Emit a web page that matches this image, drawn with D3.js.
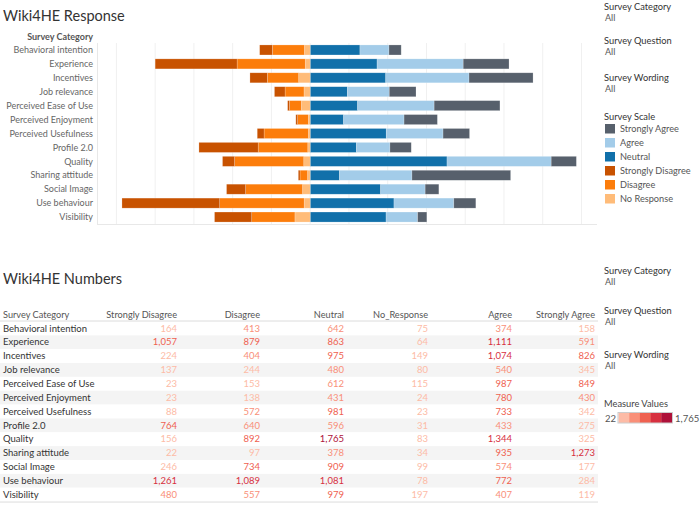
<!DOCTYPE html>
<html><head><meta charset="utf-8">
<script src="https://cdn.jsdelivr.net/npm/d3@7"></script>
<style>
body{margin:0;background:#fff;}
svg text{font-family:Lato,"Open Sans",sans-serif;}
</style></head><body>
<svg id="c" width="700" height="522"></svg>
<script>
const categories = ["Behavioral intention","Experience","Incentives","Job relevance","Perceived Ease of Use","Perceived Enjoyment","Perceived Usefulness","Profile 2.0","Quality","Sharing attitude","Social Image","Use behaviour","Visibility"];
const stronglyDisagree = [164,1057,224,137,23,23,88,764,156,22,246,1261,480];
const disagree = [413,879,404,244,153,138,572,640,892,97,734,1089,557];
const neutral = [642,863,975,480,612,431,981,596,1765,378,909,1081,979];
const noResponse = [75,64,149,80,115,24,23,31,83,34,99,78,197];
const agree = [374,1111,1074,540,987,780,733,433,1344,935,574,772,407];
const stronglyAgree = [158,591,826,345,849,430,342,275,325,1273,177,284,119];
const scaleNames = ["Strongly Agree","Agree","Neutral","Strongly Disagree","Disagree","No Response"];
const scaleColors = ["#57606c","#a3cce9","#1170aa","#c85200","#fc7d0b","#ffbc79"];
const tableColumns = ["Strongly Disagree","Disagree","Neutral","No_Response","Agree","Strongly Agree"];
const heatColors = ["#fdbba6","#f98f78","#ef6150","#d7303f","#ae1139"];
const xTicks = [-2500,-2000,-1500,-1000,-500,0,500,1000,1500,2000,2500,3000,3500];

const svg = d3.select("#c");
const series = {"Strongly Disagree":stronglyDisagree,"Disagree":disagree,"Neutral":neutral,"No Response":noResponse,"Agree":agree,"Strongly Agree":stronglyAgree};
const color = d3.scaleOrdinal(scaleNames, scaleColors);

// ---------- Top chart ----------
svg.append("text").attr("x",3).attr("y",21).attr("font-size",14.5).attr("fill","#333").text("Wiki4HE Response");

const x = d3.scaleLinear().domain([-2750,3700]).range([97,597]);
const y = d3.scaleBand().domain(categories).range([43,224]).paddingInner(0.28).paddingOuter(0.14);

const g = svg.append("g");
g.selectAll("line.grid").data(xTicks).join("line")
  .attr("x1",d=>x(d)).attr("x2",d=>x(d)).attr("y1",43).attr("y2",224)
  .attr("stroke","#f0f0f0").attr("stroke-width",1);
g.append("line").attr("x1",97.5).attr("x2",97.5).attr("y1",43).attr("y2",224).attr("stroke","#e8e8e8");
g.append("line").attr("x1",97).attr("x2",597).attr("y1",224.5).attr("y2",224.5).attr("stroke","#e8e8e8");

svg.append("text").attr("x",93).attr("y",40).attr("text-anchor","end").attr("font-size",9).attr("font-weight","bold").attr("fill","#555").text("Survey Category");
svg.selectAll("text.rl").data(categories).join("text").attr("class","rl")
  .attr("x",93).attr("y",d=>y(d)+y.bandwidth()/2+3.2).attr("text-anchor","end")
  .attr("font-size",9).attr("fill","#666").text(d=>d);

const segs = [];
categories.forEach((c,i)=>{
  let pos = 0;
  ["Neutral","Agree","Strongly Agree"].forEach(k=>{ const v=series[k][i]; segs.push({c,k,x0:pos,x1:pos+v}); pos+=v; });
  let neg = 0;
  ["No Response","Disagree","Strongly Disagree"].forEach(k=>{ const v=series[k][i]; segs.push({c,k,x0:neg-v,x1:neg}); neg-=v; });
});
g.selectAll("rect.seg").data(segs).join("rect").attr("class","seg")
  .attr("x",d=>x(d.x0)).attr("width",d=>x(d.x1)-x(d.x0))
  .attr("y",d=>y(d.c)).attr("height",y.bandwidth())
  .attr("fill",d=>color(d.k)).attr("stroke","rgba(255,255,255,0.35)").attr("stroke-width",0.6);

// ---------- Top right panel ----------
function filt(yy,label){
  svg.append("text").attr("x",604).attr("y",yy).attr("font-size",9.3).attr("fill","#333").text(label);
  svg.append("text").attr("x",605).attr("y",yy+11).attr("font-size",9).attr("fill","#555").text("All");
}
filt(10,"Survey Category"); filt(44,"Survey Question"); filt(81,"Survey Wording");
svg.append("text").attr("x",604).attr("y",120).attr("font-size",9.3).attr("fill","#333").text("Survey Scale");
const leg = svg.selectAll("g.leg").data(scaleNames).join("g").attr("class","leg")
  .attr("transform",(d,i)=>`translate(605,${124+i*14})`);
leg.append("rect").attr("width",10).attr("height",9.5).attr("fill",d=>color(d));
leg.append("text").attr("x",15).attr("y",8).attr("font-size",9.2).attr("fill","#555").text(d=>d);

// ---------- Bottom table ----------
svg.append("text").attr("x",3).attr("y",284).attr("font-size",14.5).attr("fill","#333").text("Wiki4HE Numbers");
const colRight = [177,260,344,428,512,595];
const colData = [stronglyDisagree,disagree,neutral,noResponse,agree,stronglyAgree];
const rowStep = 13.85, rowTop = 321.5;
const allVals = colData.flat();
const heat = d3.scaleQuantize().domain([d3.min(allVals), d3.max(allVals)]).range(heatColors);
const fmt = d3.format(",");

svg.selectAll("rect.band").data(categories).join("rect").attr("class","band")
  .attr("x",0).attr("width",598).attr("y",(d,i)=>rowTop+i*rowStep).attr("height",rowStep)
  .attr("fill",(d,i)=>i%2?"#f4f4f4":"#fff");
svg.append("line").attr("x1",0).attr("x2",598).attr("y1",321).attr("y2",321).attr("stroke","#dcdcdc");
svg.append("line").attr("x1",0).attr("x2",598).attr("y1",rowTop+13*rowStep+0.5).attr("y2",rowTop+13*rowStep+0.5).attr("stroke","#dcdcdc");

svg.append("text").attr("x",3).attr("y",318).attr("font-size",9.2).attr("fill","#555").text("Survey Category");
svg.selectAll("text.ch").data(tableColumns).join("text").attr("class","ch")
  .attr("x",(d,i)=>colRight[i]).attr("y",318).attr("text-anchor","end").attr("font-size",9.2).attr("fill","#555").text(d=>d);
svg.selectAll("text.tr").data(categories).join("text").attr("class","tr")
  .attr("x",3).attr("y",(d,i)=>rowTop+i*rowStep+rowStep/2+3.2).attr("font-size",9.5).attr("fill","#333").text(d=>d);
colData.forEach((arr,ci)=>{
  svg.append("g").selectAll("text").data(arr).join("text")
    .attr("x",colRight[ci]).attr("y",(d,i)=>rowTop+i*rowStep+rowStep/2+3.2).attr("text-anchor","end")
    .attr("font-size",9.5).attr("fill",d=>heat(d)).text(d=>fmt(d));
});

// ---------- Bottom right panel ----------
filt(274,"Survey Category"); filt(314,"Survey Question"); filt(358,"Survey Wording");
svg.append("text").attr("x",604).attr("y",407).attr("font-size",9.3).attr("fill","#444").text("Measure Values");
const lx = d3.scaleBand().domain(heatColors).range([618.5,672]);
svg.selectAll("rect.hl").data(heatColors).join("rect").attr("class","hl")
  .attr("x",d=>lx(d)).attr("width",lx.bandwidth()+0.3).attr("y",413).attr("height",10).attr("fill",d=>d);
svg.append("rect").attr("x",618).attr("y",412.5).attr("width",54.5).attr("height",10.5).attr("fill","none").attr("stroke","#ccc");
svg.append("text").attr("x",616).attr("y",421.5).attr("text-anchor","end").attr("font-size",9.5).attr("fill","#555").text(fmt(d3.min(allVals)));
svg.append("text").attr("x",675).attr("y",421.5).attr("font-size",9.5).attr("fill","#555").text(fmt(d3.max(allVals)));
</script></body></html>
